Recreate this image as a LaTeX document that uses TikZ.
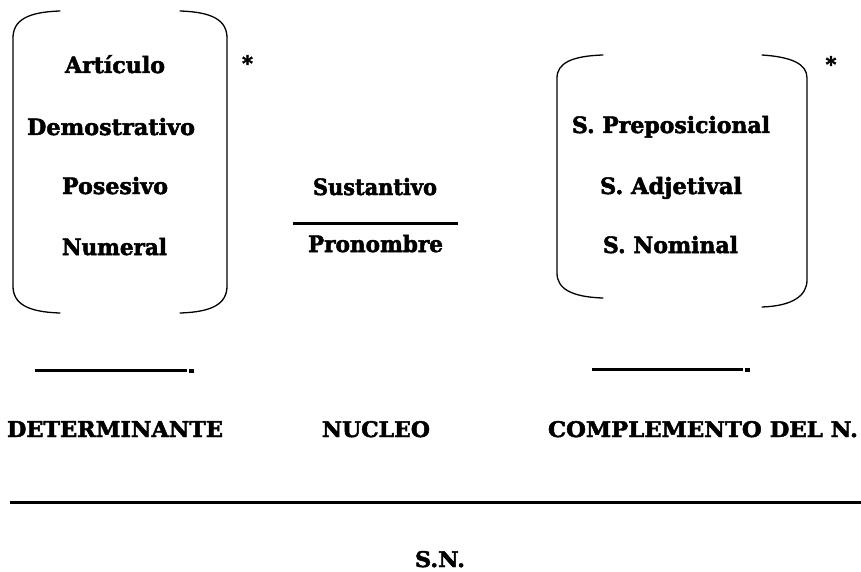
\documentclass[tikz,border=0pt]{standalone}
\usepackage{fontspec}
\usepackage{graphicx}
\setmainfont{DejaVu Serif}[BoldFeatures={FakeBold=2.2}]
\newcommand\fitw[2]{\resizebox{#1}{\height}{#2}}
\newcommand\fitc[2]{\resizebox{#1}{16pt}{#2}}
\begin{document}
\begin{tikzpicture}[x=1pt,y=-1pt,
  word/.style={inner sep=0pt,anchor=base,font=\fontsize{22.5}{26}\selectfont\bfseries},
  brk/.style={line width=1.3pt,line cap=round},
  rule/.style={line width=3pt}]
\useasboundingbox (0,0) rectangle (861,572);
% left bracket group
\draw[brk] (60,11) .. controls (28,12) and (13,20) .. (13,38) -- (13,286) .. controls (13,304) and (28,312) .. (60,313);
\draw[brk] (180,11) .. controls (212,12) and (227,20) .. (227,38) -- (227,286) .. controls (227,304) and (212,312) .. (180,313);
\node[word] (art) at (115,73) {\fitw{100pt}{Artículo}};
\node[word] (dem) at (111,135) {\fitw{168pt}{Demostrativo}};
\node[word] (pos) at (115,194) {\fitw{106pt}{Posesivo}};
\node[word] (num) at (114.5,255) {\fitw{105pt}{Numeral}};
\node[inner sep=0pt] (ast1) at (247.5,63) {\resizebox{11pt}{!}{\bfseries *}};
% middle
\node[word] (sus) at (375,195) {\fitw{124pt}{Sustantivo}};
\coordinate (m1) at (293,223);
\coordinate (m2) at (458,223);
\draw[rule] (m1) -- (m2);
\node[word] (pro) at (375.5,252) {\fitw{135pt}{Pronombre}};
% right bracket group
\draw[brk] (603,55) .. controls (572,56) and (557,63) .. (557,78) -- (557,273) .. controls (557,289) and (572,297) .. (603,298);
\draw[brk] (762,55) .. controls (792,57) and (807,64) .. (807,78) -- (807,280) .. controls (807,296) and (792,306) .. (762,307);
\node[word] (sprep) at (671,133) {\fitw{198pt}{S. Preposicional}};
\node[word] (sadj) at (671,194) {\fitw{142pt}{S. Adjetival}};
\node[word] (snom) at (670.5,253) {\fitw{135pt}{S. Nominal}};
\node[inner sep=0pt] (ast2) at (831,64) {\resizebox{11pt}{!}{\bfseries *}};
% underlines
\coordinate (u1a) at (35,370);
\coordinate (u1b) at (187,370);
\draw[rule] (u1a) -- (u1b);
\fill (188.5,368.5) rectangle (194,373);
\coordinate (u2a) at (592,369);
\coordinate (u2b) at (743,369);
\draw[rule] (u2a) -- (u2b);
\fill (744.5,367.5) rectangle (750,372);
% labels
\node[word] (det) at (115,437) {\fitc{216pt}{DETERMINANTE}};
\node[word] (nuc) at (376,437) {\fitc{108pt}{NUCLEO}};
\node[word] (comp) at (703,437) {\fitc{310pt}{COMPLEMENTO DEL N.}};
\coordinate (b1) at (10,502);
\coordinate (b2) at (861,502);
\draw[rule] (b1) -- (b2);
\node[word] (sn) at (440,567) {\fitc{50pt}{S.N.}};
\end{tikzpicture}
\end{document}
